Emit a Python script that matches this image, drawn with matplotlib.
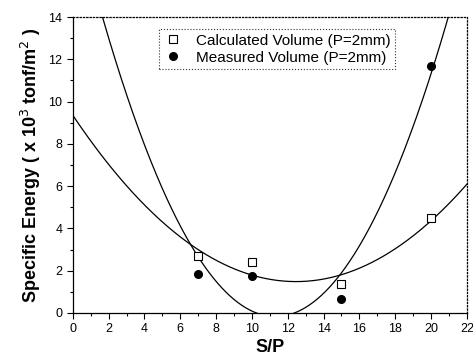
import numpy as np
import matplotlib
matplotlib.use("Agg")
import matplotlib.pyplot as plt
from matplotlib.ticker import MultipleLocator

plt.rcParams["font.family"] = ["Liberation Sans", "DejaVu Sans"]

sp = [7, 10, 15, 20]
calculated = [2.7, 2.4, 1.35, 4.5]
measured = [1.85, 1.75, 0.65, 11.7]

# quadratic fits, as in the original chart
calc_fit = np.polyfit(sp, calculated, 2)
meas_fit = np.polyfit(sp, measured, 2)
xs = np.linspace(0, 22, 400)

fig = plt.figure(figsize=(4.73, 3.63), dpi=100)
ax = fig.add_axes([0.154, 0.138, 0.833, 0.815])

ax.plot(xs, np.polyval(calc_fit, xs), color="black", lw=0.9)
ax.plot(xs, np.polyval(meas_fit, xs), color="black", lw=0.9)
ax.plot(sp, calculated, "s", mfc="white", mec="black", ms=5.5, mew=0.8,
        linestyle="none", label="Calculated Volume (P=2mm)")
ax.plot(sp, measured, "o", color="black", ms=5.5, linestyle="none",
        label="Measured Volume (P=2mm)")

ax.set_xlim(0, 22)
ax.set_ylim(0, 14)
ax.xaxis.set_major_locator(MultipleLocator(2))
ax.xaxis.set_minor_locator(MultipleLocator(1))
ax.yaxis.set_major_locator(MultipleLocator(2))
ax.yaxis.set_minor_locator(MultipleLocator(1))
ax.tick_params(which="both", direction="out", labelsize=9, width=0.8)
ax.tick_params(which="major", length=4)
ax.tick_params(which="minor", length=2)
for s in ["top", "right"]:
    ax.spines[s].set_linestyle(":")
for s in ax.spines.values():
    s.set_linewidth(0.9)

ax.set_xlabel("S/P", fontsize=13, fontweight="bold", labelpad=3)
ax.set_ylabel("Specific Energy ( x 10$^3$ tonf/m$^2$ )",
              fontsize=13, fontweight="bold", labelpad=4)

leg = ax.legend(loc="upper left", bbox_to_anchor=(0.2, 0.985), fontsize=11,
                frameon=True, fancybox=False, edgecolor="black",
                handletextpad=0.9, borderpad=0.3, labelspacing=0.2,
                handlelength=1.2)
leg.get_frame().set_linestyle(":")
leg.get_frame().set_linewidth(0.8)

fig.savefig("out.png", dpi=100)
